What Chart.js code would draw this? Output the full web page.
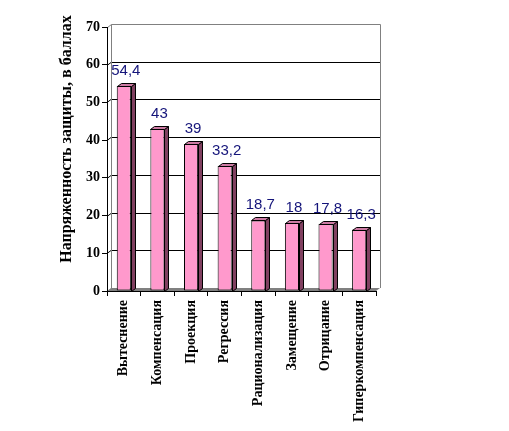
<!DOCTYPE html>
<html>
<head>
<meta charset="utf-8">
<script src="https://cdn.jsdelivr.net/npm/chart.js@4/dist/chart.umd.min.js"></script>
<style>
  html, body { margin: 0; padding: 0; background: #fff; }
  canvas { display: block; }
</style>
</head>
<body>
<canvas id="chart" width="509" height="431"></canvas>
<script>
const categories = ['Вытеснение', 'Компенсация', 'Проекция', 'Регрессия', 'Рационализация', 'Замещение', 'Отрицание', 'Гиперкомпенсация'];
const values = [54.4, 43, 39, 33.2, 18.7, 18, 17.8, 16.3];
const yTicks = [0, 10, 20, 30, 40, 50, 60, 70];
const yTitle = 'Напряженность защиты, в баллах';

// 3D depth offset
const DX = 4, DY = -3;
const SERIF = "'Liberation Serif', 'Times New Roman', serif";

// back wall, floor and gridlines, drawn under the axes
const wallPlugin = {
  id: 'wall',
  beforeDraw(chart) {
    const { ctx, chartArea: a, scales: { y } } = chart;
    const L = a.left, R = a.right, T = y.getPixelForValue(70), B = y.getPixelForValue(0);
    ctx.save();
    // floor
    ctx.fillStyle = '#808080';
    ctx.beginPath();
    ctx.moveTo(L, B); ctx.lineTo(R, B); ctx.lineTo(R + DX, B + DY); ctx.lineTo(L + DX, B + DY);
    ctx.closePath(); ctx.fill();
    // gridlines
    ctx.lineWidth = 1;
    ctx.strokeStyle = '#000';
    yTicks.slice(1, -1).forEach(v => {
      const py = Math.round(y.getPixelForValue(v)) + 0.5;
      ctx.beginPath();
      ctx.moveTo(L, py); ctx.lineTo(L + DX, py + DY); ctx.lineTo(R + DX, py + DY);
      ctx.stroke();
    });
    // wall edges
    ctx.strokeStyle = '#808080';
    ctx.beginPath();
    ctx.moveTo(L + DX + 0.5, B + DY); ctx.lineTo(L + DX + 0.5, T + DY + 0.5);
    ctx.lineTo(R + DX + 0.5, T + DY + 0.5); ctx.lineTo(R + DX + 0.5, B + DY);
    ctx.moveTo(L + 0.5, T + 0.5); ctx.lineTo(L + DX + 0.5, T + DY + 0.5);
    ctx.stroke();
    ctx.restore();
  }
};

// side and top faces of the bars, value labels and axis title
const barsPlugin = {
  id: 'bars3d',
  afterDatasetsDraw(chart) {
    const { ctx } = chart;
    const meta = chart.getDatasetMeta(0);
    ctx.save();
    ctx.lineWidth = 1;
    ctx.strokeStyle = '#000';
    meta.data.forEach((bar, i) => {
      const { x, y, base, width } = bar.getProps(['x', 'y', 'base', 'width'], true);
      const l = Math.round(x - width / 2) + 0.5, r = Math.round(x + width / 2) + 0.5;
      const t = Math.round(y) + 0.5, b = Math.round(base) + 0.5;
      // side
      ctx.fillStyle = '#804060';
      ctx.beginPath();
      ctx.moveTo(r, t); ctx.lineTo(r + DX, t + DY); ctx.lineTo(r + DX, b + DY); ctx.lineTo(r, b);
      ctx.closePath(); ctx.fill(); ctx.stroke();
      // top
      ctx.fillStyle = '#cc7aa3';
      ctx.beginPath();
      ctx.moveTo(l, t); ctx.lineTo(l + DX, t + DY); ctx.lineTo(r + DX, t + DY); ctx.lineTo(r, t);
      ctx.closePath(); ctx.fill(); ctx.stroke();
      // value
      ctx.fillStyle = '#14147a';
      ctx.font = "15px 'Liberation Sans', Arial, sans-serif";
      ctx.textAlign = 'center';
      ctx.textBaseline = 'alphabetic';
      ctx.fillText(String(values[i]).replace('.', ','), x + 2, y - 11);
    });
    ctx.restore();
  },
  afterDraw(chart) {
    const { ctx } = chart;
    ctx.save();
    ctx.translate(67, 139);
    ctx.rotate(-Math.PI / 2);
    ctx.fillStyle = '#000';
    ctx.font = 'bold 16px ' + SERIF;
    ctx.textAlign = 'center';
    ctx.textBaseline = 'middle';
    ctx.fillText(yTitle, 0, 0);
    ctx.restore();
  }
};

new Chart(document.getElementById('chart'), {
  type: 'bar',
  data: {
    labels: categories,
    datasets: [{
      data: values,
      backgroundColor: '#ff99cc',
      borderColor: '#000',
      borderWidth: 1,
      borderSkipped: false,
      barPercentage: 0.6,
      categoryPercentage: 0.7,
    }],
  },
  options: {
    responsive: false, animation: false, devicePixelRatio: 1,
    layout: { padding: { top: 27, right: 133, left: 0, bottom: 0 } },
    plugins: { legend: { display: false }, tooltip: { enabled: false } },
    scales: {
      x: {
        afterFit: s => { s.height = 140; },
        grid: { offset: true, drawOnChartArea: false, tickLength: 5, color: '#000' },
        border: { color: '#000' },
        ticks: { minRotation: 90, maxRotation: 90, autoSkip: false, padding: 4, color: '#000', font: { family: SERIF, size: 14, weight: 'bold' } },
      },
      y: {
        min: 0, max: 70,
        afterFit: s => { s.width = 107; },
        afterBuildTicks: s => { s.ticks = yTicks.map(v => ({ value: v })); },
        grid: { drawOnChartArea: false, tickLength: 5, color: '#000' },
        border: { color: '#000' },
        ticks: { padding: 2, color: '#000', font: { family: SERIF, size: 14, weight: 'bold' } },
      },
    },
  },
  plugins: [wallPlugin, barsPlugin],
});
</script>
</body>
</html>
